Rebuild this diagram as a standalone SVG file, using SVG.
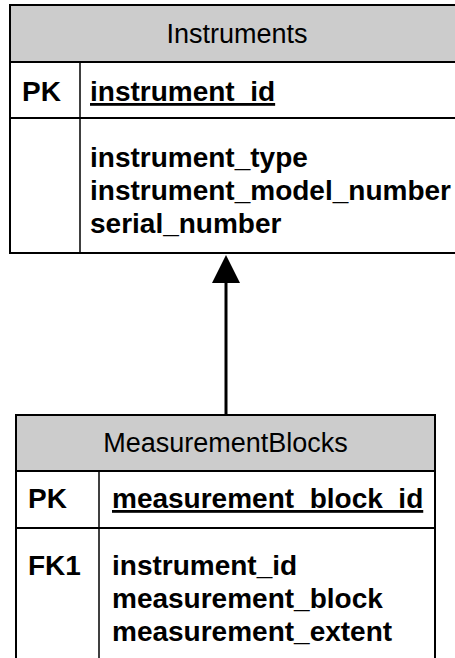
<svg xmlns="http://www.w3.org/2000/svg" width="455" height="658" viewBox="0 0 455 658">
<style>
  .box { fill: #ffffff; stroke: #000000; stroke-width: 2; }
  .hdr { fill: #cccccc; stroke: #000000; stroke-width: 2; }
  .sep { stroke: #000000; stroke-width: 2; fill: none; }
  .div { stroke: #000000; stroke-width: 1.5; fill: none; }
  .title { font-family: "Liberation Sans", Arial, sans-serif; font-size: 27px; fill: #000000; text-anchor: middle; }
  .lbl { font-family: "Liberation Sans", Arial, sans-serif; font-size: 28px; font-weight: bold; fill: #000000; }
  .pk { text-decoration: underline; }
  .conn { stroke: #000000; stroke-width: 3; fill: none; }
</style>
<rect width="455" height="658" fill="#ffffff"/>

<g id="connectors">
  <line class="conn" x1="226" y1="415" x2="226" y2="280"/>
  <polygon points="226,255 212,283 240,283" fill="#000000"/>
</g>

<g id="instruments">
  <rect class="box" x="10" y="5" width="460" height="248"/>
  <rect class="hdr" x="10" y="5" width="460" height="57"/>
  <line class="sep" x1="10" y1="118" x2="470" y2="118"/>
  <line class="div" x1="80" y1="62" x2="80" y2="253"/>
  <text class="title" x="237" y="43">Instruments</text>
  <text class="lbl" x="22" y="101">PK</text>
  <text class="lbl pk" x="90" y="101">instrument_id</text>
  <text class="lbl" x="90" y="167">instrument_type</text>
  <text class="lbl" x="90" y="200">instrument_model_number</text>
  <text class="lbl" x="90" y="233">serial_number</text>
</g>

<g id="measurementblocks">
  <rect class="box" x="16" y="415" width="419" height="260"/>
  <rect class="hdr" x="16" y="415" width="419" height="56"/>
  <line class="sep" x1="16" y1="528" x2="435" y2="528"/>
  <line class="div" x1="99" y1="471" x2="99" y2="660"/>
  <text class="title" x="225.5" y="452">MeasurementBlocks</text>
  <text class="lbl" x="28" y="508">PK</text>
  <text class="lbl pk" x="112" y="508">measurement_block_id</text>
  <text class="lbl" x="28" y="575">FK1</text>
  <text class="lbl" x="112" y="575">instrument_id</text>
  <text class="lbl" x="112" y="608">measurement_block</text>
  <text class="lbl" x="112" y="641">measurement_extent</text>
</g>
</svg>
